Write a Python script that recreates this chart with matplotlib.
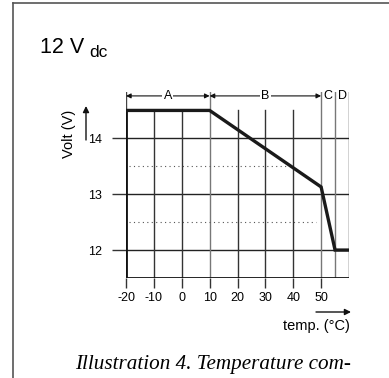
import matplotlib.pyplot as plt
from matplotlib.lines import Line2D

# curve data (temperature in degC, voltage in V)
temp = [-20, 10, 50, 55, 60]
volt = [14.5, 14.5, 13.13, 12.0, 12.0]

x_ticks = [-20, -10, 0, 10, 20, 30, 40, 50]
y_ticks = [12, 13, 14]
grid_x = [-10, 0, 20, 30, 40]
section_x = [10, 50, 55, 60]
sections = ['A', 'B', 'C', 'D']
section_bounds = [-20, 10, 50, 55, 60]
dotted_y = [13.5, 12.5]
dotted_end = [39, 48]

plt.rcParams['font.family'] = ['Liberation Sans', 'DejaVu Sans']

fig = plt.figure(figsize=(3.89, 3.78), dpi=100)
ax = fig.add_axes([126 / 389, 1 - 278 / 378, (349 - 126) / 389, (278 - 92) / 378])
ax.set_xlim(-20, 60)
ax.set_ylim(11.5, 14.83)
for s in ax.spines.values():
    s.set_visible(False)

# grid
for y in y_ticks:
    ax.axhline(y, color='#222222', lw=1.0)
for x in grid_x:
    ax.plot([x, x], [11.5, 14.5], color='#333333', lw=1.0)
for x in section_x:
    ax.plot([x, x], [11.5, 14.83], color='#777777' if x != 60 else '#222222', lw=1.0)
ax.plot([-20, -20], [11.5, 14.83], color='#444444', lw=1.0)
for y, xe in zip(dotted_y, dotted_end):
    ax.plot([-19, xe], [y, y], color='#555555', lw=0.8, ls=(0, (1, 3)))

# axes frame lines
ax.plot([-20, -20], [11.5, 14.5], color='#111111', lw=2.0, solid_capstyle='butt')
ax.plot([-20, 60], [11.5, 11.5], color='#111111', lw=2.0, solid_capstyle='butt')

# curve
ax.plot(temp, volt, color='#1a1a1a', lw=2.4, solid_joinstyle='miter', solid_capstyle='butt')

# section arrows
ya = 14.76
for i in range(2):
    x0, x1 = section_bounds[i], section_bounds[i + 1]
    ax.annotate('', xy=(x0, ya), xytext=(x1, ya),
                arrowprops=dict(arrowstyle='<|-|>', color='#111111', lw=0.8,
                                mutation_scale=7, shrinkA=0, shrinkB=0))
    ax.text((x0 + x1) / 2, ya, sections[i], ha='center', va='center', fontsize=9,
            bbox=dict(facecolor='white', edgecolor='none', pad=1))
for i in range(2, 4):
    x0, x1 = section_bounds[i], section_bounds[i + 1]
    ax.text((x0 + x1) / 2, ya, sections[i], ha='center', va='center', fontsize=9)

# ticks
ax.set_xticks(x_ticks)
ax.set_xticklabels([str(t) for t in x_ticks], fontsize=9)
ax.set_yticks(y_ticks)
ax.set_yticklabels([str(t) for t in y_ticks], fontsize=9)
ax.tick_params(axis='x', length=7, width=1, color='#333333', pad=3)
ax.tick_params(axis='y', length=10, width=1, color='#333333', pad=7)

# axis labels and arrows
fig.text(69 / 389, 1 - 134 / 378, 'Volt (V)', rotation=90, ha='center', va='center', fontsize=10.5)
fig.add_artist(plt.Annotation('', xy=(86 / 389, 1 - 106 / 378), xytext=(86 / 389, 1 - 140 / 378),
                              xycoords='figure fraction',
                              arrowprops=dict(arrowstyle='-|>', color='#111111', lw=1.0,
                                              mutation_scale=9, shrinkA=0, shrinkB=0)))
fig.add_artist(plt.Annotation('', xy=(351 / 389, 1 - 312 / 378), xytext=(316 / 389, 1 - 312 / 378),
                              xycoords='figure fraction',
                              arrowprops=dict(arrowstyle='-|>', color='#111111', lw=1.0,
                                              mutation_scale=9, shrinkA=0, shrinkB=0)))
fig.text(350 / 389, 1 - 326 / 378, 'temp. (°C)', ha='right', va='center', fontsize=10.5)

# title
fig.text(40 / 389, 1 - 53 / 378, '12 V', ha='left', va='baseline', fontsize=15.5)
fig.text(89 / 389, 1 - 57 / 378, 'dc', ha='left', va='baseline', fontsize=12.5)

# caption
fig.text(75 / 389, 1 - 365 / 378, 'Illustration 4. Temperature com-', ha='left', va='center',
         fontsize=15.2, family='Liberation Serif', style='italic')

# outer frame
fig.add_artist(Line2D([13 / 389, 13 / 389], [0, 1 - 3 / 378], color='#555555', lw=1.2))
fig.add_artist(Line2D([13 / 389, 1], [1 - 3 / 378, 1 - 3 / 378], color='#555555', lw=1.2))

fig.savefig('out.png', dpi=100)
